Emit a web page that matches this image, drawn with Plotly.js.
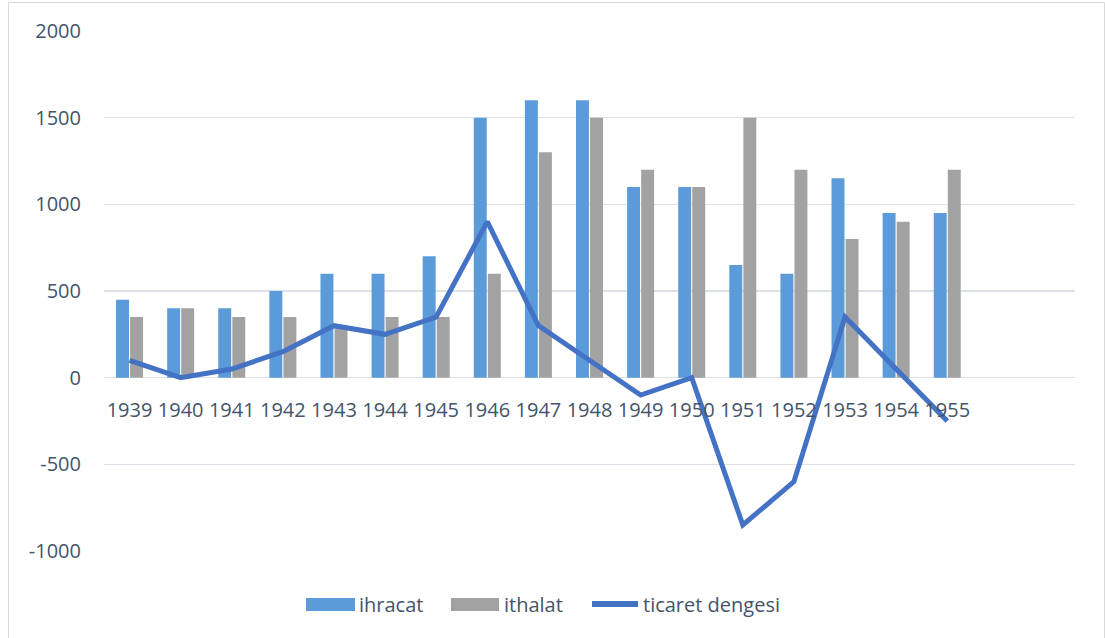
<!DOCTYPE html>
<html>
<head>
<meta charset="utf-8">
<script src="https://cdn.plot.ly/plotly-3.0.1.min.js"></script>
<style>
  html, body { margin: 0; padding: 0; background: #ffffff; }
  #chart { width: 1105px; height: 638px; }
</style>
</head>
<body>
<div id="chart"></div>
<script>
const years = [1939, 1940, 1941, 1942, 1943, 1944, 1945, 1946, 1947, 1948, 1949, 1950, 1951, 1952, 1953, 1954, 1955];
const yearLabels = years.map(String);
const ihracat = [450, 400, 400, 500, 600, 600, 700, 1500, 1600, 1600, 1100, 1100, 650, 600, 1150, 950, 950];
const ithalat = [350, 400, 350, 350, 300, 350, 350, 600, 1300, 1500, 1200, 1100, 1500, 1200, 800, 900, 1200];
const ticaretDengesi = [100, 0, 50, 150, 300, 250, 350, 900, 300, 100, -100, 0, -850, -600, 350, 50, -250];
const yTickVals = [-1000, -500, 0, 500, 1000, 1500, 2000];
const yTickText = ['-1000', '-500', '0', '500', '1000', '1500', '2000'];
const seriesNames = ['ihracat', 'ithalat', 'ticaret dengesi'];

const textColor = '#44546A';
const gridColor = '#DCE1E7';
const colors = ['#5B9BD9', '#A2A2A2', '#4472C4'];
const fontFamily = '"Open Sans", "Noto Sans", "Liberation Sans", sans-serif';

const traces = [
  { type: 'bar', name: seriesNames[0], x: years, y: ihracat, marker: { color: colors[0] } },
  { type: 'bar', name: seriesNames[1], x: years, y: ithalat, marker: { color: colors[1] } },
  {
    type: 'scatter', mode: 'lines', name: seriesNames[2], x: years, y: ticaretDengesi,
    line: { color: colors[2], width: 5 }
  }
];

// plot area in pixels: x 104..1075, y 31..551
const px = v => (v - 104) / 971;
const py = v => (551 - v) / 520;

const legendY = py(604);
const legendShapes = [
  { type: 'rect', xref: 'paper', yref: 'paper', x0: px(306), x1: px(355), y0: py(611), y1: py(598),
    line: { width: 0 }, fillcolor: colors[0] },
  { type: 'rect', xref: 'paper', yref: 'paper', x0: px(451), x1: px(499), y0: py(611), y1: py(598),
    line: { width: 0 }, fillcolor: colors[1] },
  { type: 'path', xref: 'paper', yref: 'paper',
    path: 'M ' + px(592) + ' ' + legendY + ' L ' + px(638) + ' ' + legendY,
    line: { color: colors[2], width: 6 } }
];
const legendAnnots = [
  { text: seriesNames[0], x: px(357), y: legendY },
  { text: seriesNames[1], x: px(502), y: legendY },
  { text: seriesNames[2], x: px(641), y: legendY }
].map(a => Object.assign(a, {
  xref: 'paper', yref: 'paper', xanchor: 'left', yanchor: 'middle', showarrow: false,
  font: { family: fontFamily, size: 20, color: textColor }
}));

const layout = {
  width: 1105, height: 638,
  margin: { l: 104, r: 30, t: 31, b: 87, pad: 0 },
  paper_bgcolor: '#ffffff', plot_bgcolor: '#ffffff',
  font: { family: fontFamily, size: 20, color: textColor },
  barmode: 'group', bargap: 0.45, bargroupgap: 0.08,
  showlegend: false,
  xaxis: {
    type: 'linear', range: [1938.5, 1957.5],
    tickmode: 'array', tickvals: years, ticktext: yearLabels,
    showgrid: false, zeroline: false, showline: false, ticks: '',
    anchor: 'free', position: py(378), tickangle: 0, ticklabelstandoff: 18,
    tickfont: { family: fontFamily, size: 20, color: textColor },
    fixedrange: true
  },
  yaxis: {
    range: [-1000, 2000], tickmode: 'array', tickvals: yTickVals, ticktext: yTickText,
    showgrid: true, gridcolor: gridColor, gridwidth: 1.5,
    zeroline: true, zerolinecolor: gridColor, zerolinewidth: 1.5,
    showline: false, ticks: '', ticklabelstandoff: 22,
    tickfont: { family: fontFamily, size: 20, color: textColor },
    fixedrange: true
  },
  shapes: [
    {
      type: 'rect', xref: 'paper', yref: 'paper',
      x0: px(8.5), x1: px(1104.5), y0: -0.2, y1: py(2.5),
      line: { color: '#D9D9D9', width: 1 }, fillcolor: 'rgba(0,0,0,0)', layer: 'below'
    }
  ].concat(legendShapes),
  annotations: legendAnnots
};

Plotly.newPlot('chart', traces, layout, { displayModeBar: false, staticPlot: true });
</script>
</body>
</html>
